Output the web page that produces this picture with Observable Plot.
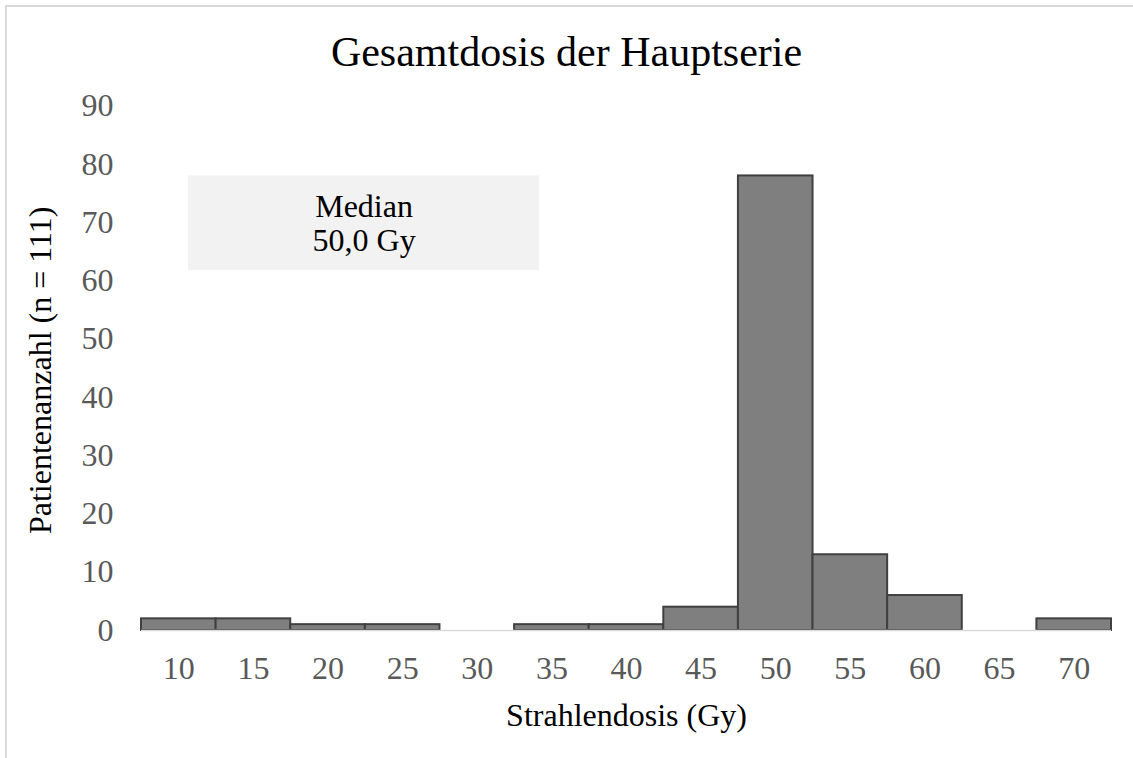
<!DOCTYPE html>
<html>
<head>
<meta charset="utf-8">
<script src="https://cdn.jsdelivr.net/npm/d3@7"></script>
<script src="https://cdn.jsdelivr.net/npm/@observablehq/plot@0.6"></script>
<style>
  html, body { margin: 0; padding: 0; background: #fff; overflow: hidden; }
  #wrap { position: relative; width: 1133px; height: 758px; }
  #border { position: absolute; left: 5px; top: 5px; width: 1200px; height: 800px;
            border: 2px solid #d9d9d9; pointer-events: none; box-sizing: border-box; }
  svg { display: block; }
</style>
</head>
<body>
<div id="wrap"><div id="border"></div></div>
<script>
// Data
const doses  = [10, 15, 20, 25, 30, 35, 40, 45, 50, 55, 60, 65, 70];
const counts = [2, 2, 1, 1, 0, 1, 1, 4, 78, 13, 6, 0, 2];
const binWidth = 5;
const yTicks = [0, 10, 20, 30, 40, 50, 60, 70, 80, 90];
const titleText = "Gesamtdosis der Hauptserie";
const xLabel = "Strahlendosis (Gy)";
const yLabel = "Patientenanzahl (n = 111)";
const medianText = "Median\n50,0 Gy";
// annotation box (data units)
const medianBox = [{x1: 10.65, x2: 34.18, y1: 61.75, y2: 78.0}];

const rows = doses.map((d, i) => ({dose: d, x1: d - binWidth / 2, x2: d + binWidth / 2, count: counts[i]}));
const font = "'Liberation Serif', 'Times New Roman', serif";

const chart = Plot.plot({
  width: 1133,
  height: 758,
  marginLeft: 141,
  marginRight: 22,
  marginTop: 105.5,
  marginBottom: 128,
  style: {fontFamily: font, color: "#595959", background: "transparent"},
  x: {domain: [doses[0] - binWidth / 2, doses[doses.length - 1] + binWidth / 2]},
  y: {domain: [0, 90]},
  marks: [
    Plot.rect(medianBox, {x1: "x1", x2: "x2", y1: "y1", y2: "y2", fill: "#f2f2f2"}),
    Plot.text(medianBox, {x: d => (d.x1 + d.x2) / 2, y: d => (d.y1 + d.y2) / 2, text: () => medianText,
      fontSize: 32, fill: "#000", lineHeight: 1.07}),
    Plot.rectY(rows, {x1: "x1", x2: "x2", y: "count", filter: d => d.count > 0,
      fill: "#7f7f7f", stroke: "#404040", strokeWidth: 2}),
    Plot.ruleY([0], {stroke: "#d9d9d9", strokeWidth: 1.5}),
    Plot.axisY({ticks: yTicks, tickSize: 0, tickPadding: 28, fontSize: 32, label: null}),
    Plot.axisX({ticks: doses, tickSize: 0, tickPadding: 26, fontSize: 32, label: null}),
    Plot.text([titleText], {frameAnchor: "top", lineAnchor: "middle", dx: -60, dy: -53.5, fontSize: 42, fill: "#000"}),
    Plot.text([xLabel], {frameAnchor: "bottom", lineAnchor: "middle", dy: 85, fontSize: 32, fill: "#000"}),
    Plot.text([yLabel], {frameAnchor: "left", textAnchor: "middle", lineAnchor: "middle", dx: -101, dy: 2, rotate: -90, fontSize: 32, fill: "#000"})
  ]
});
document.getElementById("wrap").prepend(chart);
</script>
</body>
</html>
